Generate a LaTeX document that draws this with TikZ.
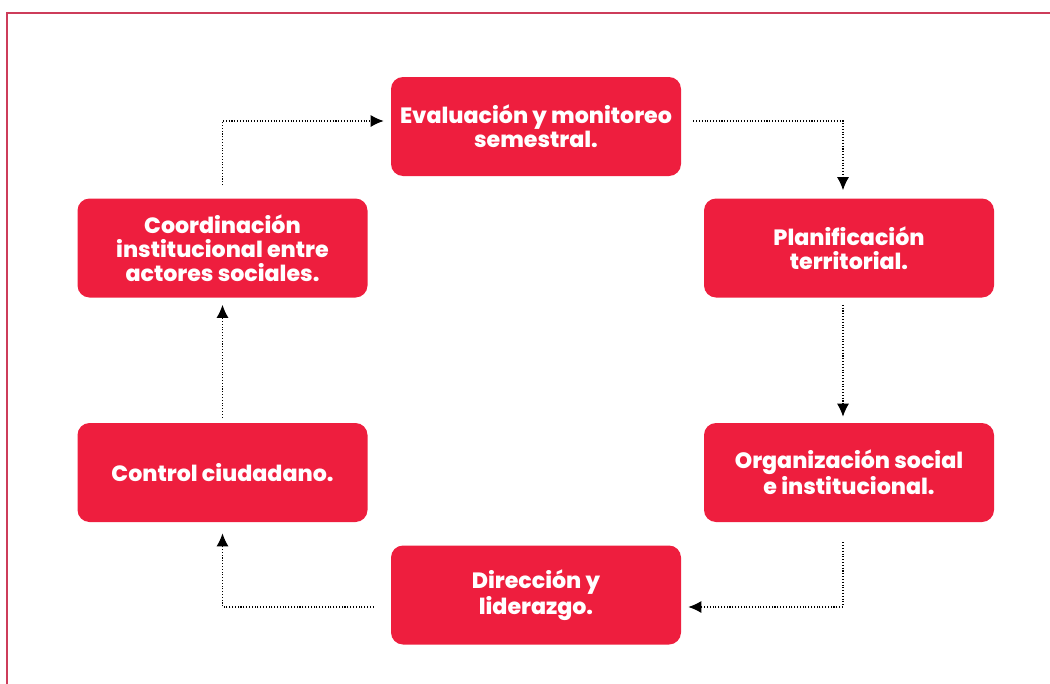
\documentclass[tikz,border=0pt]{standalone}
\usepackage{fontspec}
\IfFontExistsTF{Poppins ExtraBold}
  {\newfontfamily\boxfont{Poppins ExtraBold}}
  {\newfontfamily\boxfont{Poppins}[UprightFeatures={FakeBold=1.5}]}
\usetikzlibrary{positioning,arrows.meta}
\definecolor{boxred}{RGB}{238,30,62}
\definecolor{framered}{RGB}{205,60,90}

\begin{document}
\begin{tikzpicture}[
    stepbox/.style={draw=none,fill=boxred,rounded corners=0.24cm,minimum width=5.8cm,minimum height=1.98cm,
      text=white,align=center,font=\boxfont\fontsize{12.6}{13.6}\selectfont},
    flow/.style={black,densely dotted,line width=0.6pt,-{Latex[length=2.6mm,width=2.4mm]}}]
  \useasboundingbox (0,0) rectangle (21,-13.68);
  \draw[framered,line width=1.3pt] (0.14,-13.8) |- (21.1,-0.26);

  \node[stepbox] (eval) at (10.72,-2.53){Evaluación y monitoreo\\semestral.};
  \node[stepbox] (plan) at (16.98,-4.96){Planificación\\territorial.};
  \node[stepbox] (org) at (16.98,-9.45){Organización social\\e institucional.};
  \node[stepbox] (dir) at (10.72,-11.90){Dirección y\\liderazgo.};
  \node[stepbox] (ctrl) at (4.45,-9.45){Control ciudadano.};
  \node[stepbox] (coord) at (4.45,-4.96){Coordinación\\institucional entre\\actores sociales.};

  \draw[flow,shorten <=2.6mm,shorten >=1.4mm] (coord.north) |- ([yshift=1.1mm]eval.west);
  \draw[flow,shorten <=2.4mm,shorten >=1.6mm] ([yshift=1.1mm]eval.east) -| ([xshift=-1.2mm]plan.north);
  \draw[flow,shorten <=1.4mm,shorten >=1.2mm] ([xshift=-1.2mm]plan.south) -- ([xshift=-1.2mm]org.north);
  \draw[flow,shorten <=4mm,shorten >=1.4mm] ([xshift=-1.2mm]org.south) |- ([yshift=-2.4mm]dir.east);
  \draw[flow,shorten <=3.4mm,shorten >=2.2mm] ([yshift=-2.4mm]dir.west) -| (ctrl.south);
  \draw[flow,shorten <=1mm,shorten >=1.4mm] (ctrl.north) -- (coord.south);
\end{tikzpicture}
\end{document}
